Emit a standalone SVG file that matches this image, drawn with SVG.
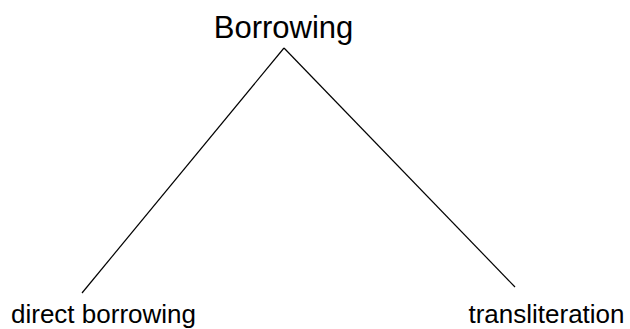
<svg xmlns="http://www.w3.org/2000/svg" width="630" height="329" viewBox="0 0 630 329">
<style>
text{font-family:"Liberation Sans",Arial,sans-serif;fill:#000;text-anchor:middle}
.root{font-size:31px}
.leaf{font-size:26px}
.edge{stroke:#000;stroke-width:1.2;fill:none}
</style>
<rect width="630" height="329" fill="#fff"/>
<g id="connectors">
<line class="edge" x1="284" y1="48" x2="82" y2="293"/>
<line class="edge" x1="284" y1="48" x2="515" y2="287"/>
</g>
<g id="borrowing"><text class="root" x="283.5" y="38">Borrowing</text></g>
<g id="direct-borrowing"><text class="leaf" x="103.5" y="323">direct borrowing</text></g>
<g id="transliteration"><text class="leaf" x="546.5" y="323">transliteration</text></g>
</svg>
